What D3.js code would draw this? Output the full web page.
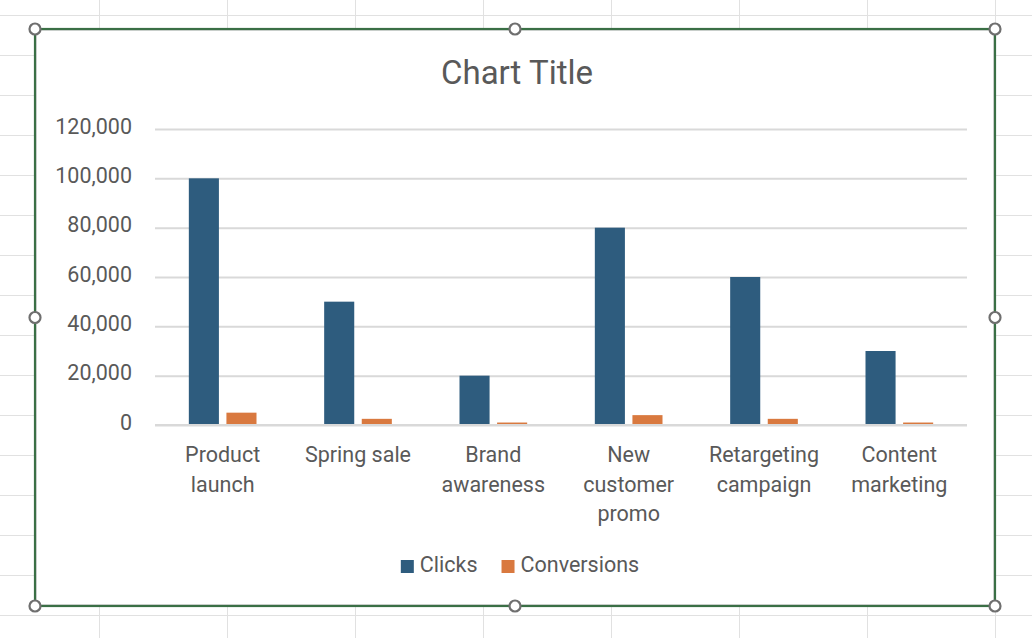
<!DOCTYPE html>
<html>
<head>
<meta charset="utf-8">
<script src="https://cdn.jsdelivr.net/npm/d3@7"></script>
<style>
  html, body { margin: 0; padding: 0; background: #fff; }
  svg { display: block; font-family: Roboto, "Noto Sans", sans-serif; }
</style>
</head>
<body>
<div id="chart"></div>
<script>
const WIDTH = 1032;
const HEIGHT = 638;

// data
const categories = [
  ["Product", "launch"],
  ["Spring sale"],
  ["Brand", "awareness"],
  ["New", "customer", "promo"],
  ["Retargeting", "campaign"],
  ["Content", "marketing"]
];
const seriesNames = ["Clicks", "Conversions"];
const clicks = [100000, 50000, 20000, 80000, 60000, 30000];
const conversions = [5000, 2500, 1000, 4000, 2500, 1000];
const yTicks = [0, 20000, 40000, 60000, 80000, 100000, 120000];

const COLORS = {Clicks: "#2e5c7e", Conversions: "#d9793f"};
const TEXT = "#595959";

const CHART = {left: 35, top: 29, right: 995, bottom: 606};
const PLOT = {left: 155, right: 967, top: 129, bottom: 425};

const svg = d3.select("#chart")
  .append("svg")
  .attr("width", WIDTH)
  .attr("height", HEIGHT);

// spreadsheet cells behind the chart
const sheet = svg.append("g").attr("stroke", "#e1e1e1").attr("stroke-width", 1);
d3.range(99, WIDTH, 128).forEach(x => {
  sheet.append("line").attr("x1", x + 0.5).attr("x2", x + 0.5).attr("y1", 0).attr("y2", HEIGHT);
});
d3.range(15, HEIGHT, 40).forEach(y => {
  sheet.append("line").attr("y1", y + 0.5).attr("y2", y + 0.5).attr("x1", 0).attr("x2", WIDTH);
});

// chart area
svg.append("rect")
  .attr("x", CHART.left + 1.5)
  .attr("y", CHART.top + 1.5)
  .attr("width", CHART.right - CHART.left - 3)
  .attr("height", CHART.bottom - CHART.top - 3)
  .attr("fill", "#fff")
  .attr("stroke", "#d9d9d9")
  .attr("stroke-width", 1);

// title
svg.append("text")
  .attr("x", (CHART.left + CHART.right) / 2 + 2)
  .attr("y", 84)
  .attr("text-anchor", "middle")
  .attr("font-size", 33)
  .attr("fill", TEXT)
  .text("Chart Title");

const x0 = d3.scaleBand()
  .domain(d3.range(categories.length))
  .range([PLOT.left, PLOT.right])
  .paddingInner(0.5)
  .paddingOuter(0.25);

const x1 = d3.scaleBand()
  .domain(seriesNames)
  .range([0, x0.bandwidth()])
  .paddingInner(0.2);

const y = d3.scaleLinear()
  .domain([0, 120000])
  .range([PLOT.bottom, PLOT.top]);

// value gridlines and labels
const yAxis = d3.axisLeft(y)
  .tickValues(yTicks)
  .tickSize(-(PLOT.right - PLOT.left))
  .tickPadding(23)
  .tickFormat(d3.format(","));

svg.append("g")
  .attr("transform", "translate(" + PLOT.left + ",0)")
  .call(yAxis)
  .call(g => g.select(".domain").remove())
  .call(g => g.selectAll(".tick line").attr("stroke", "#d9d9d9").attr("stroke-width", 2))
  .call(g => g.selectAll(".tick text")
    .attr("fill", TEXT)
    .attr("font-size", 21.5)
    .attr("font-family", "Roboto, sans-serif")
    .attr("dy", "0.2em"));

// bars
const rows = categories.map((c, i) => ({i: i, Clicks: clicks[i], Conversions: conversions[i]}));

svg.append("g")
  .selectAll("g")
  .data(rows)
  .join("g")
  .attr("transform", d => "translate(" + x0(d.i) + ",0)")
  .selectAll("rect")
  .data(d => seriesNames.map(s => ({key: s, value: d[s]})))
  .join("rect")
  .attr("x", d => x1(d.key))
  .attr("width", x1.bandwidth())
  .attr("y", d => y(d.value))
  .attr("height", d => y(0) - y(d.value))
  .attr("fill", d => COLORS[d.key]);

// category axis line
svg.append("line")
  .attr("x1", PLOT.left).attr("x2", PLOT.right)
  .attr("y1", y(0)).attr("y2", y(0))
  .attr("stroke", "#d9d9d9")
  .attr("stroke-width", 2);

// category labels, wrapped like Excel does
const catLabels = svg.append("g")
  .selectAll("text")
  .data(categories)
  .join("text")
  .attr("x", (d, i) => x0(i) + x0.bandwidth() / 2)
  .attr("y", 462)
  .attr("text-anchor", "middle")
  .attr("font-size", 21.5)
  .attr("fill", TEXT);

catLabels.selectAll("tspan")
  .data(d => d)
  .join("tspan")
  .attr("x", function () { return d3.select(this.parentNode).attr("x"); })
  .attr("dy", (d, j) => j === 0 ? 0 : 29.5)
  .text(d => d);

// legend
const legend = svg.append("g").attr("transform", "translate(0,572)");
const items = legend.selectAll("g")
  .data(seriesNames)
  .join("g");

items.append("rect")
  .attr("y", -12)
  .attr("width", 13)
  .attr("height", 13)
  .attr("fill", d => COLORS[d]);

items.append("text")
  .attr("x", 19)
  .attr("font-size", 21.5)
  .attr("fill", TEXT)
  .text(d => d);

let offset = 0;
const widths = [];
items.each(function () {
  widths.push(19 + this.querySelector("text").getComputedTextLength());
});
const total = d3.sum(widths) + 24 * (widths.length - 1);
let start = (CHART.left + CHART.right) / 2 + 5 - total / 2;
items.attr("transform", (d, i) => {
  const pos = start + offset;
  offset += widths[i] + 24;
  return "translate(" + pos + ",0)";
});

// selection frame with handles
svg.append("rect")
  .attr("x", CHART.left)
  .attr("y", CHART.top)
  .attr("width", CHART.right - CHART.left)
  .attr("height", CHART.bottom - CHART.top)
  .attr("fill", "none")
  .attr("stroke", "#3a6f45")
  .attr("stroke-width", 2.2);

const midX = (CHART.left + CHART.right) / 2;
const midY = (CHART.top + CHART.bottom) / 2;
const handles = [
  [CHART.left, CHART.top], [midX, CHART.top], [CHART.right, CHART.top],
  [CHART.left, midY], [CHART.right, midY],
  [CHART.left, CHART.bottom], [midX, CHART.bottom], [CHART.right, CHART.bottom]
];
svg.append("g")
  .selectAll("circle")
  .data(handles)
  .join("circle")
  .attr("cx", d => d[0])
  .attr("cy", d => d[1])
  .attr("r", 5.5)
  .attr("fill", "#fff")
  .attr("stroke", "#6f6f6f")
  .attr("stroke-width", 2.2);
</script>
</body>
</html>
